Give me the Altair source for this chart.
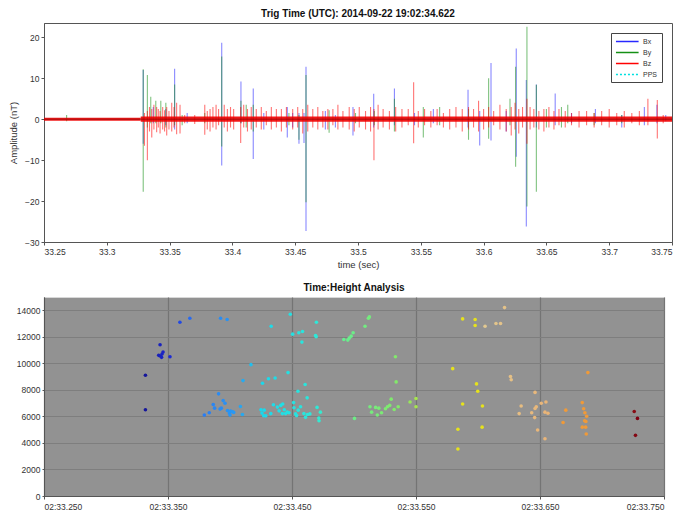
import altair as alt
import pandas as pd

# ---------------- top panel data (spike extents) ----------------
series_names = ["Bx", "By", "Bz", "PPS"]
series_colors = ["#2828ff", "#159015", "#ff0000", "#00e0e0"]

bx_t = [33.3290, 33.3370, 33.3470, 33.3540, 33.3640, 33.3915, 33.4068, 33.4166, 33.4250,
        33.4437, 33.4480, 33.4530, 33.4570, 33.4586, 33.4740, 33.4820, 33.4960, 33.5125,
        33.5290, 33.5450, 33.5600, 33.5876, 33.5969, 33.6059, 33.6180, 33.6260, 33.6340,
        33.6420, 33.6570, 33.6700, 33.6890, 33.7100, 33.7280, 33.7380, 33.7450]
bx_lo = [-6.0, -1.0, -1.5, -2.5, -1.0, -11.3, -1.0, -9.7, -2.5,
         -4.5, -2.0, -6.0, -5.8, -27.3, -2.5, -2.0, -4.0, -2.0,
         -1.5, -1.5, -1.0, -2.0, -6.4, -5.2, -3.0, -9.2, -26.2,
         -2.0, -1.5, -1.0, -1.0, -2.0, -1.5, -1.0, -0.5]
bx_hi = [12.0, 3.0, 2.5, 12.3, 1.5, 18.7, 9.2, 7.5, 1.5,
         3.0, 1.5, 1.5, 1.5, 12.8, 2.0, 1.0, 3.0, 6.2,
         7.5, 1.5, 2.5, 7.2, 2.0, 13.7, 2.0, 17.3, 9.6,
         8.5, 6.3, 1.5, 2.5, 1.0, 3.0, 3.5, 1.0]

by_t = [33.2680, 33.3290, 33.3323, 33.3350, 33.3390, 33.3430, 33.3470, 33.3540, 33.3600,
        33.3780, 33.3915, 33.4068, 33.4110, 33.4166, 33.4450, 33.4530, 33.4586, 33.4770,
        33.4980, 33.5130, 33.5290, 33.5520, 33.5650, 33.5880, 33.6040, 33.6210, 33.6255,
        33.6345, 33.6420, 33.6500, 33.6620, 33.6670, 33.6880, 33.7100]
by_lo = [-0.5, -17.7, -2.0, -1.0, -1.0, -1.0, -2.0, -1.5, -1.5,
         -1.0, -6.7, -1.0, -2.0, -3.0, -1.5, -5.0, -20.3, -3.3,
         -1.0, -1.5, -3.0, -4.5, -1.5, -5.0, -4.8, -1.5, -11.6,
         -21.3, -17.7, -2.0, -2.0, -1.0, -1.5, -1.0]
by_hi = [1.0, 12.2, 10.8, 5.5, 4.5, 4.5, 4.0, 8.5, 1.0,
         1.5, 15.3, 4.5, 3.5, 3.5, 1.5, 1.0, 10.8, 2.2,
         1.5, 2.0, 5.0, 3.0, 3.0, 2.5, 10.0, 5.0, 12.8,
         22.6, 8.4, 2.5, 3.0, 3.5, 1.5, 1.0]

bz_t = [33.3300, 33.3323, 33.3340, 33.3358, 33.3375, 33.3397, 33.3410, 33.3424, 33.3445,
        33.3460, 33.3477, 33.3495, 33.3517, 33.3535, 33.3556, 33.3583, 33.3620, 33.3700,
        33.3780, 33.3800, 33.3822, 33.3845, 33.3870, 33.3890, 33.3935, 33.3960, 33.3985,
        33.4010, 33.4066, 33.4090, 33.4120, 33.4150, 33.4190, 33.4230, 33.4270, 33.4310,
        33.4350, 33.4390, 33.4430, 33.4480, 33.4520, 33.4560, 33.4600, 33.4640, 33.4680,
        33.4720, 33.4760, 33.4800, 33.4840, 33.4880, 33.4930, 33.4970, 33.5010, 33.5060,
        33.5100, 33.5127, 33.5160, 33.5200, 33.5250, 33.5300, 33.5350, 33.5400, 33.5443,
        33.5480, 33.5530, 33.5580, 33.5630, 33.5680, 33.5730, 33.5780, 33.5830, 33.5880,
        33.5920, 33.5960, 33.6000, 33.6040, 33.6080, 33.6130, 33.6180, 33.6220, 33.6250,
        33.6280, 33.6310, 33.6345, 33.6370, 33.6400, 33.6440, 33.6480, 33.6520, 33.6560,
        33.6600, 33.6650, 33.6700, 33.6760, 33.6820, 33.6880, 33.6940, 33.7000, 33.7060,
        33.7120, 33.7180, 33.7240, 33.7308, 33.7383, 33.7430]
bz_lo = [-6.5, -10.0, -3.0, -4.5, -2.5, -3.2, -2.0, -3.5, -2.5,
         -3.0, -4.0, -2.5, -3.0, -2.0, -3.7, -3.5, -1.0, -1.2,
         -3.8, -2.5, -3.0, -2.0, -2.5, -1.5, -2.0, -3.0, -2.0,
         -2.5, -5.8, -2.0, -3.0, -2.5, -2.0, -2.5, -1.5, -2.5,
         -2.0, -3.0, -2.0, -2.5, -2.0, -3.5, -3.0, -2.0, -2.5,
         -2.0, -2.5, -1.5, -2.5, -2.0, -2.5, -3.0, -2.0, -2.5,
         -3.0, -10.0, -2.5, -2.0, -2.5, -3.0, -2.0, -1.5, -5.9,
         -2.0, -1.5, -2.0, -1.5, -2.0, -2.5, -2.0, -3.0, -2.5,
         -2.0, -3.0, -2.5, -2.0, -1.5, -2.5, -3.0, -4.0, -2.5,
         -3.5, -2.0, -6.0, -2.5, -2.0, -2.5, -3.0, -2.0, -2.5,
         -1.5, -2.0, -1.5, -2.0, -1.5, -2.0, -1.5, -2.0, -1.5,
         -2.0, -1.0, -1.5, -1.5, -4.7, -1.0]
bz_hi = [1.5, 2.0, 3.0, 2.5, 3.5, 3.0, 2.5, 2.0, 3.0,
         2.2, 3.0, 2.0, 4.0, 3.0, 4.0, 3.5, 1.0, 1.0,
         3.5, 2.0, 2.5, 3.0, 3.5, 2.5, 3.5, 2.5, 3.0,
         2.5, 3.0, 3.5, 2.5, 3.0, 2.5, 3.0, 2.0, 3.0,
         2.5, 2.5, 3.0, 2.5, 3.0, 2.5, 3.5, 2.5, 3.0,
         2.0, 2.5, 2.5, 3.5, 2.0, 3.0, 2.5, 3.0, 2.0,
         3.0, 2.5, 3.5, 2.5, 2.0, 3.0, 2.5, 2.5, 9.0,
         2.0, 2.5, 2.0, 2.5, 1.5, 2.5, 3.0, 2.5, 3.0,
         2.5, 4.5, 2.5, 3.0, 2.0, 3.5, 2.5, 3.0, 4.0,
         2.5, 3.0, 5.0, 3.0, 2.5, 2.0, 2.5, 3.0, 2.0,
         2.5, 2.0, 1.5, 2.0, 2.0, 1.5, 2.0, 2.5, 1.5,
         2.0, 1.5, 2.0, 5.0, 4.7, 1.0]

# near-zero noise envelope of the traces
band_t0 = [33.25, 33.327]
band_t1 = [33.327, 33.75]
band_lo = [-0.35, -0.65]
band_hi = [0.35, 0.65]

top_xticks = [33.25, 33.3, 33.35, 33.4, 33.45, 33.5, 33.55, 33.6, 33.65, 33.7, 33.75]
top_yticks = [-30, -25, -20, -15, -10, -5, 0, 5, 10, 15, 20]

# ---------------- bottom panel data ----------------
ev_t = [33.3318, 33.3318, 33.3436, 33.3425, 33.3440, 33.3452, 33.3460, 33.3448, 33.3516,
        33.3596, 33.3676, 33.3924, 33.3977, 33.3793, 33.3833, 33.3865, 33.3876, 33.3908,
        33.3945, 33.3930, 33.3920, 33.3960, 33.3980, 33.3995, 33.4005, 33.4000, 33.4020,
        33.4030, 33.4084, 33.4100, 33.4105, 33.4169, 33.4262, 33.4250, 33.4258, 33.4272,
        33.4332, 33.4486, 33.4505, 33.4555, 33.4585, 33.4580, 33.4697, 33.4690, 33.4695,
        33.4310, 33.4364, 33.4468, 33.4548, 33.4606, 33.4622,
        33.4276, 33.4289, 33.4329, 33.4350, 33.4382, 33.4396, 33.4409, 33.4425, 33.4422,
        33.4438, 33.4449, 33.4462, 33.4476, 33.4513, 33.4516, 33.4529, 33.4537, 33.4550,
        33.4569, 33.4596, 33.4609, 33.4625, 33.4644, 33.4702, 33.4716, 33.4729, 33.4718,
        33.5116, 33.5124, 33.5089, 33.4993, 33.4977, 33.4961, 33.4950, 33.4918,
        33.5004, 33.5129, 33.5142, 33.5174, 33.5200, 33.5188, 33.5222, 33.5254, 33.5270,
        33.5288, 33.5300, 33.5334, 33.5340, 33.5324, 33.5356, 33.5452, 33.5500, 33.5500,
        33.5876, 33.5977, 33.5977, 33.6057, 33.6145, 33.6182, 33.6214, 33.5796, 33.5988,
        33.5998, 33.5876, 33.6036, 33.5838, 33.6033, 33.5838, 33.6262, 33.6268,
        33.6886, 33.6460, 33.6348, 33.6332, 33.6433, 33.6460, 33.6470, 33.6457, 33.6510,
        33.6548, 33.6540, 33.6564, 33.6481, 33.6540, 33.6708, 33.6686, 33.6841, 33.6852,
        33.6862, 33.6876, 33.6860, 33.6870, 33.6841, 33.6868, 33.6873,
        33.7260, 33.7286, 33.7270]
ev_h = [9100, 6500, 11400, 10600, 10550, 10700, 10850, 10450, 10500,
        13100, 13400, 13400, 13300, 6100, 6270, 6890, 6620, 7700,
        7190, 6620, 6550, 6990, 6450, 6250, 6400, 6100, 6350,
        6300, 6750, 6140, 8700, 9900, 8500, 6500, 6250, 6050,
        12800, 13700, 12200, 12300, 12400, 11600, 13100, 12100, 12000,
        8840, 8890, 9300, 7900, 8400, 7400,
        6470, 6040, 6210, 6880, 6700, 6420, 6830, 6930, 6210,
        6500, 6210, 6320, 6270, 7040, 6650, 6190, 6060, 6470,
        6730, 6210, 5930, 6140, 6190, 6680, 5880, 6320, 5670,
        13400, 13500, 12800, 12300, 12050, 11900, 11750, 11800,
        5850, 6730, 6320, 6680, 6620, 6110, 6270, 6580, 6730,
        6830, 7300, 10500, 8600, 6520, 6730, 7090, 7350, 6730,
        13350, 13300, 12850, 12800, 13000, 13000, 14200, 9600, 8450,
        7900, 6930, 6780, 5030, 5190, 3540, 9000, 8760,
        9300, 7810, 6780, 6210, 6270, 6600, 6730, 5910, 6990,
        7090, 6320, 6240, 4980, 4310, 6470, 5540, 7040, 6580,
        6270, 6010, 5670, 5620, 5190, 5190, 4670,
        6370, 5850, 4570]

color_stops_t = [33.33, 33.352, 33.37, 33.405, 33.425, 33.47, 33.49, 33.54, 33.57, 33.604,
                 33.6055, 33.657, 33.665, 33.70, 33.724]
color_stops_c = ["#141496", "#1c2ad6", "#2a74f4", "#2a9af2", "#1ad8ec", "#2ee8d8", "#66ee90",
                 "#86e866", "#e6e21c", "#e6e21c", "#e2c890", "#eab476", "#f09a38", "#f09a38",
                 "#901818"]

bottom_xticks = [33.25, 33.35, 33.45, 33.55, 33.65, 33.75]
bottom_yticks = [0, 2000, 4000, 6000, 8000, 10000, 12000, 14000]

# ---------------- build tables ----------------
rows = []
for name, ts, los, his in [("Bx", bx_t, bx_lo, bx_hi), ("By", by_t, by_lo, by_hi),
                           ("Bz", bz_t, bz_lo, bz_hi)]:
    for t, lo, hi in zip(ts, los, his):
        rows.append({"t": t, "lo": lo, "hi": hi, "series": name})
spikes = pd.DataFrame(rows)
band = pd.DataFrame({"t0": band_t0, "t1": band_t1, "lo": band_lo, "hi": band_hi})
events = pd.DataFrame({"t": ev_t, "h": ev_h})

FONT = "Liberation Sans"
LABEL_COLOR = "#333333"

legend = alt.Legend(orient="top-right", title=None, symbolType="M-1,0H5.4", symbolSize=50,
                    symbolStrokeWidth=1.6, symbolOpacity=1, labelFontSize=7, labelFont=FONT,
                    labelColor="#333333", fillColor="white", strokeColor="#444444",
                    padding=4, rowPadding=3, offset=10, labelOffset=19)

x_top = alt.X("t:Q", scale=alt.Scale(domain=[33.25, 33.75], nice=False, zero=False),
              axis=alt.Axis(title="time (sec)", values=top_xticks,
                            labelExpr="format(datum.value, '.4~g')", grid=False,
                            tickSize=3, labelPadding=2, titlePadding=4))
y_top = alt.Y("lo:Q", scale=alt.Scale(domain=[-30, 23.5], nice=False, zero=False),
              axis=alt.Axis(title="Amplitude (nT)", values=top_yticks, grid=False,
                            tickSize=3, labelPadding=2, titlePadding=6))

spike_layer = alt.Chart(spikes).mark_rule(strokeWidth=1.1, opacity=0.55).encode(
    x=x_top,
    y=y_top,
    y2="hi:Q",
    color=alt.Color("series:N", scale=alt.Scale(domain=series_names, range=series_colors),
                    legend=legend),
    strokeDash=alt.StrokeDash("series:N",
                              scale=alt.Scale(domain=series_names,
                                              range=[[1, 0], [1, 0], [1, 0], [2, 2]]),
                              legend=legend),
)

band_layer = alt.Chart(band).mark_rect(color="#ee0000", opacity=0.9).encode(
    x="t0:Q", x2="t1:Q", y="lo:Q", y2="hi:Q")

zero_layer = alt.Chart(band).mark_rule(color="#5a0000", strokeWidth=0.7, opacity=0.7).encode(
    x="t0:Q", x2="t1:Q", y=alt.datum(0))

top = alt.layer(spike_layer, band_layer, zero_layer).properties(
    width=628, height=219,
    title=alt.TitleParams("Trig Time (UTC): 2014-09-22 19:02:34.622", fontSize=10,
                          font=FONT, fontWeight="bold", color="#111111", offset=4),
    view=alt.ViewBackground(fill="white", stroke="#555555", strokeWidth=1),
)

bottom = alt.Chart(events).mark_circle(size=13, opacity=1).encode(
    x=alt.X("t:Q", scale=alt.Scale(domain=[33.25, 33.75], nice=False, zero=False),
            axis=alt.Axis(title=None, values=bottom_xticks,
                          labelExpr="'02:' + format(datum.value, '06.3f')",
                          grid=True, gridColor="#747474", gridWidth=1.2,
                          tickSize=3, labelPadding=3)),
    y=alt.Y("h:Q", scale=alt.Scale(domain=[0, 15000], nice=False, zero=False),
            axis=alt.Axis(title=None, values=bottom_yticks, format="d", grid=True,
                          gridColor="#7e7e7e", tickSize=2, labelPadding=2)),
    color=alt.Color("t:Q", scale=alt.Scale(domain=color_stops_t, range=color_stops_c,
                                           interpolate="rgb"), legend=None),
).properties(
    width=620, height=199,
    title=alt.TitleParams("Time:Height Analysis", fontSize=10, font=FONT,
                          fontWeight="bold", color="#111111", offset=4),
    view=alt.ViewBackground(fill="#929292", stroke="#d8d8d8", strokeWidth=1),
)

chart = alt.vconcat(top, bottom, spacing=12).resolve_scale(
    color="independent", strokeDash="independent", x="independent", y="independent"
).properties(
    padding={"left": 8, "top": 8, "right": 5, "bottom": 2},
    background="white",
).configure_axis(
    labelFont=FONT, titleFont=FONT, labelFontSize=8.5, titleFontSize=9.5,
    labelColor=LABEL_COLOR, titleColor="#333333", titleFontWeight="normal",
    domainColor="#555555", tickColor="#555555",
).configure_title(anchor="middle")

chart.save("out.html", embed_options={"renderer": "svg", "actions": False})
